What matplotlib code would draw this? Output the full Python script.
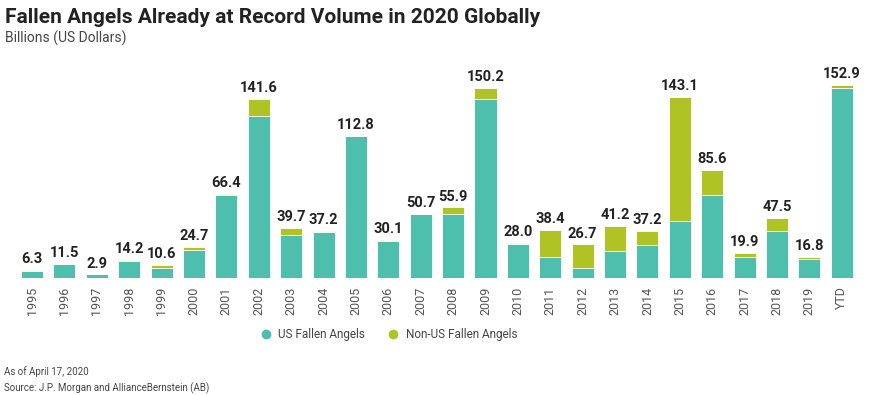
import numpy as np
import matplotlib.pyplot as plt
from matplotlib.lines import Line2D

plt.rcParams['font.family'] = ['Roboto', 'DejaVu Sans']

# data (billions USD)
years = ['1995', '1996', '1997', '1998', '1999', '2000', '2001', '2002', '2003',
         '2004', '2005', '2006', '2007', '2008', '2009', '2010', '2011', '2012',
         '2013', '2014', '2015', '2016', '2017', '2018', '2019', 'YTD']
totals = [6.3, 11.5, 2.9, 14.2, 10.6, 24.7, 66.4, 141.6, 39.7, 37.2, 112.8, 30.1,
          50.7, 55.9, 150.2, 28.0, 38.4, 26.7, 41.2, 37.2, 143.1, 85.6, 19.9,
          47.5, 16.8, 152.9]
us = [5.8, 11.5, 2.9, 13.2, 8.2, 22.6, 65.4, 128.4, 33.9, 36.2, 112.8, 29.3,
      50.7, 50.6, 141.7, 27.0, 16.6, 7.7, 21.7, 26.4, 45.4, 66.0, 16.6, 37.0,
      15.3, 150.0]
non_us = [round(t - u, 1) for t, u in zip(totals, us)]

teal = '#4FBFAD'
lime = '#B0C325'
dark = '#222222'

fig = plt.figure(figsize=(8.8, 3.95), dpi=100)
ax = fig.add_axes([0.018, 0.296, 0.957, 0.512])

x = np.arange(len(years))
ax.bar(x, us, width=0.68, color=teal, edgecolor='white', linewidth=0.6)
ax.bar(x, non_us, bottom=us, width=0.68, color=lime, edgecolor='white', linewidth=0.6)

for xi, t in zip(x, totals):
    ax.text(xi, t + 3, f'{t:.1f}', ha='center', va='bottom', fontsize=10.5,
            fontweight='bold', color=dark, clip_on=False)

ax.set_xlim(-0.5, len(years) - 0.5)
ax.set_ylim(0, 160)
ax.set_xticks(x)
ax.set_xticklabels(years, rotation=90, fontsize=9, color='#555555')
ax.tick_params(axis='x', length=0, pad=6)
ax.set_yticks([])
for s in ax.spines.values():
    s.set_visible(False)

fig.text(0.006, 0.943, 'Fallen Angels Already at Record Volume in 2020 Globally',
         fontsize=15, fontweight='bold', color=dark)
fig.text(0.006, 0.893, 'Billions (US Dollars)', fontsize=10, color='#444444')

handles = [Line2D([], [], marker='o', linestyle='', markersize=6, color=teal),
           Line2D([], [], marker='o', linestyle='', markersize=6, color=lime)]
fig.legend(handles, ['US Fallen Angels', 'Non-US Fallen Angels'], loc='center',
           bbox_to_anchor=(0.438, 0.152), ncol=2, frameon=False, fontsize=8.5,
           handletextpad=0.05, columnspacing=1.4, labelcolor='#444444')

fig.text(0.005, 0.05, 'As of April 17, 2020', fontsize=7, color='#444444')
fig.text(0.005, 0.008, 'Source: J.P. Morgan and AllianceBernstein (AB)',
         fontsize=7, color='#444444')

fig.savefig('out.png', dpi=100)
